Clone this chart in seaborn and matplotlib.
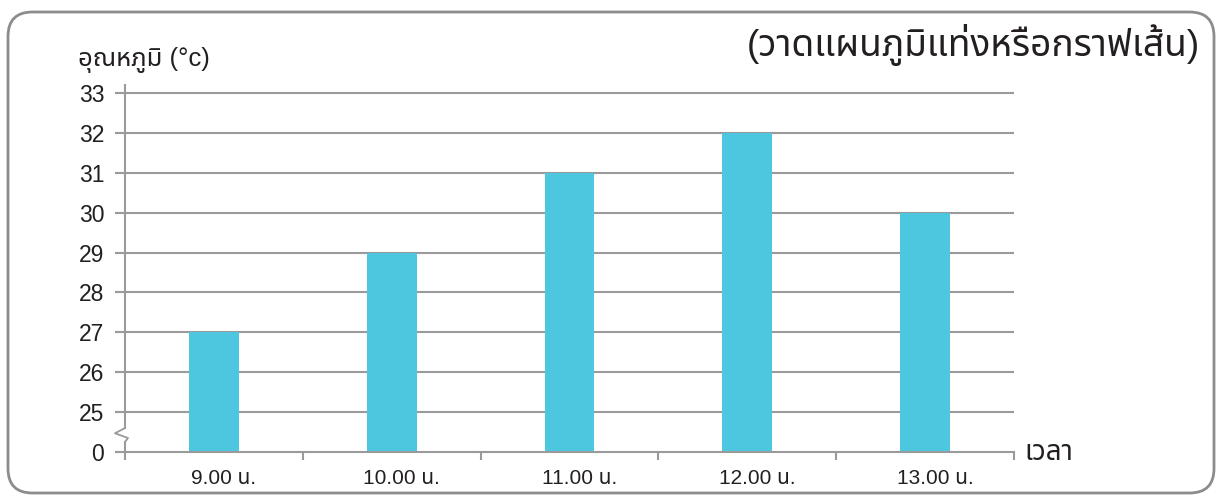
import matplotlib
matplotlib.use("Agg")
import matplotlib.pyplot as plt
import seaborn as sns
import pandas as pd
import numpy as np
from matplotlib.patches import FancyBboxPatch
from matplotlib.transforms import blended_transform_factory, ScaledTranslation

times = ["9.00 น.", "10.00 น.", "11.00 น.", "12.00 น.", "13.00 น."]
temps = [27, 29, 31, 32, 30]
ytick_labels = ["0", "25", "26", "27", "28", "29", "30", "31", "32", "33"]
break_base = 24  # values >= 25 are shown above a broken axis

sns.set_theme(style="white")
fams = ["Liberation Sans", "Noto Sans Thai", "Noto Sans Thai UI", "Loma", "Garuda",
        "Noto Sans", "DejaVu Sans"]
plt.rcParams["font.family"] = fams

df = pd.DataFrame({"time": times, "pos": [t - break_base for t in temps]})

fig = plt.figure(figsize=(12.24, 5.01), dpi=100)
ax = fig.add_axes([125/1224, 1-452/501, (1014-125)/1224, (452-85)/501])

bar_color = "#4DC7E0"
sns.barplot(data=df, x="time", y="pos", color=bar_color, width=0.28, ax=ax,
            saturation=1, edgecolor="none")

gray = "#9a9a9a"
txt = "#231f20"
ax.set_ylim(0, 9.2)
ax.set_xlim(-0.5, 4.5)
ax.set_yticks(range(len(ytick_labels)))
ax.set_yticklabels(ytick_labels, fontsize=16.5, color=txt)
ax.set_xticks(np.arange(-0.5, 4.6, 1.0), minor=False)
ax.set_xticklabels([""] * 6)
ax.set_xticks(range(5), minor=True)
ax.set_xticklabels(times, minor=True, fontsize=15, color=txt)
ax.tick_params(axis="x", which="major", length=6, width=1.5, color=gray, direction="out", bottom=True)
ax.tick_params(axis="x", which="minor", length=0, pad=12)
ax.tick_params(axis="y", length=7, width=1.5, color=gray, direction="out", left=True, pad=8)
ax.set_xlabel("")
ax.set_ylabel("")
shift = ScaledTranslation(10/100, 0, fig.dpi_scale_trans)
for lab in ax.get_xticklabels(minor=True):
    lab.set_transform(lab.get_transform() + shift)

for v in range(1, len(ytick_labels)):
    ax.axhline(v, color=gray, lw=1.5, zorder=0)

for s in ["top", "right"]:
    ax.spines[s].set_visible(False)
ax.spines["bottom"].set_color(gray)
ax.spines["bottom"].set_linewidth(1.5)
ax.spines["left"].set_color(gray)
ax.spines["left"].set_linewidth(1.5)
ax.spines["left"].set_bounds(0.6, 9.2)

# axis break decoration
tr = blended_transform_factory(ax.transAxes, ax.transData)
ax.plot([0, 0], [0, 0.25], color=gray, lw=1.5, transform=tr, clip_on=False)
zx = [0, -10/889, 3/889, 0]
zy = [0.6, 0.47, 0.35, 0.25]
ax.plot(zx, zy, color=gray, lw=1.3, transform=tr, clip_on=False)

# texts
fig.text(78/1224, 1-60/501, "อุณหภูมิ (°c)", fontsize=18.5, color=txt, va="center", ha="left")
fig.text(1200/1224, 1-45/501, "(วาดแผนภูมิแท่งหรือกราฟเส้น)", fontsize=26.7, color=txt,
         va="center", ha="right")
fig.text(1024/1224, 1-453/501, "เวลา", fontsize=20, color=txt, va="center", ha="left")

# rounded border
box = FancyBboxPatch((8/1224, 8/501), (1214-8)/1224, (489-8)/501,
                     boxstyle="round,pad=0,rounding_size=0.02",
                     transform=fig.transFigure, facecolor="none", edgecolor="#8c8c8c",
                     lw=2, mutation_aspect=1224/501)
fig.patches.append(box)

fig.savefig("out.png", dpi=100)
